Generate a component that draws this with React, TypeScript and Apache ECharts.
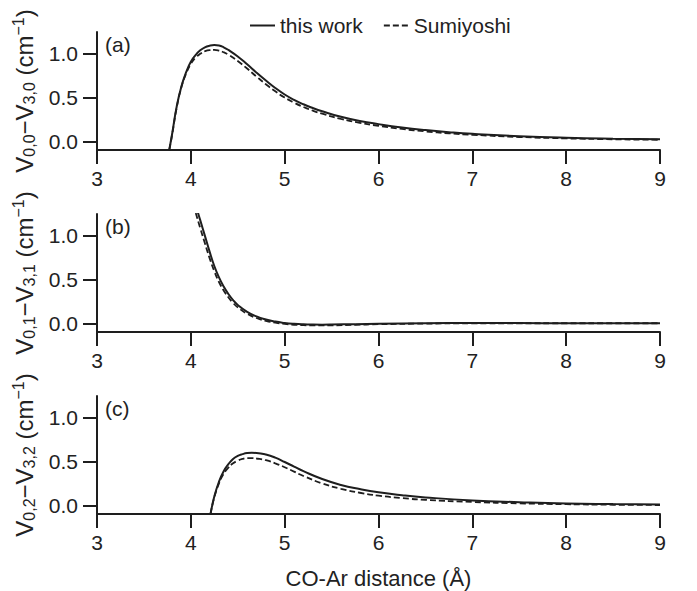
import React, { useEffect, useRef } from "react";
import * as echarts from "echarts";

// ---- data ----
const xA = [3.77, 3.8, 3.85, 3.9, 3.95, 4.0, 4.05, 4.1, 4.15, 4.2, 4.25, 4.3, 4.35, 4.4, 4.5, 4.6, 4.7, 4.8, 4.9, 5.0, 5.1, 5.2, 5.3, 5.4, 5.6, 5.8, 6.0, 6.25, 6.5, 6.75, 7.0, 7.5, 8.0, 8.5, 9.0];
const thisWorkA = [-0.1, 0.08, 0.4, 0.63, 0.79, 0.91, 0.985, 1.04, 1.075, 1.093, 1.1, 1.095, 1.075, 1.045, 0.97, 0.88, 0.785, 0.695, 0.61, 0.535, 0.474, 0.423, 0.38, 0.343, 0.28, 0.232, 0.196, 0.158, 0.128, 0.104, 0.085, 0.058, 0.04, 0.029, 0.022];
const sumiyoshiA = [-0.1, 0.07, 0.39, 0.62, 0.775, 0.885, 0.955, 1.0, 1.03, 1.043, 1.045, 1.037, 1.018, 0.99, 0.918, 0.832, 0.74, 0.652, 0.572, 0.5, 0.442, 0.392, 0.35, 0.315, 0.256, 0.211, 0.177, 0.141, 0.113, 0.091, 0.074, 0.049, 0.033, 0.023, 0.017];

const xB = [4.0, 4.05, 4.1, 4.15, 4.2, 4.25, 4.3, 4.35, 4.4, 4.45, 4.5, 4.6, 4.7, 4.8, 4.9, 5.0, 5.1, 5.2, 5.3, 5.4, 5.5, 5.75, 6.0, 6.5, 7.0, 7.5, 8.0, 8.5, 9.0];
const thisWorkB = [1.55, 1.36, 1.18, 1.0, 0.82, 0.655, 0.525, 0.42, 0.335, 0.265, 0.21, 0.13, 0.078, 0.043, 0.019, 0.004, -0.006, -0.012, -0.015, -0.016, -0.015, -0.01, -0.005, 0.0, 0.002, 0.002, 0.001, 0.001, 0.0];
const sumiyoshiB = [1.46, 1.27, 1.09, 0.915, 0.745, 0.595, 0.472, 0.375, 0.297, 0.233, 0.182, 0.108, 0.06, 0.027, 0.006, -0.008, -0.017, -0.022, -0.025, -0.025, -0.024, -0.018, -0.011, -0.004, -0.001, 0.0, 0.0, 0.0, 0.0];

const xC = [4.21, 4.25, 4.3, 4.35, 4.4, 4.45, 4.5, 4.55, 4.6, 4.65, 4.7, 4.8, 4.9, 5.0, 5.1, 5.2, 5.4, 5.6, 5.8, 6.0, 6.25, 6.5, 7.0, 7.5, 8.0, 8.5, 9.0];
const thisWorkC = [-0.1, 0.1, 0.27, 0.39, 0.47, 0.53, 0.565, 0.585, 0.597, 0.6, 0.598, 0.58, 0.545, 0.495, 0.442, 0.39, 0.3, 0.232, 0.185, 0.148, 0.115, 0.09, 0.055, 0.035, 0.02, 0.013, 0.008];
const sumiyoshiC = [-0.1, 0.09, 0.25, 0.36, 0.43, 0.48, 0.51, 0.53, 0.54, 0.54, 0.535, 0.515, 0.48, 0.435, 0.385, 0.335, 0.25, 0.188, 0.143, 0.11, 0.082, 0.062, 0.038, 0.022, 0.012, 0.006, 0.003];

const yTickValues = [0, 0.5, 1.0];
const panelLabels = ["(a)", "(b)", "(c)"];
const subscripts = [["0,0", "3,0"], ["0,1", "3,1"], ["0,2", "3,2"]];
const seriesNames = ["this work", "Sumiyoshi"];
const xAxisTitle = "CO-Ar distance (Å)";

const panels = [
  { x: xA, work: thisWorkA, sumi: sumiyoshiA },
  { x: xB, work: thisWorkB, sumi: sumiyoshiB },
  { x: xC, work: thisWorkC, sumi: sumiyoshiC },
];

// ---- layout / style ----
const FONT = "Liberation Sans";
const INK = "#1e1e1e";
const TEXT = "#222";
const gridTops = [32, 214, 396];
const GRID_H = 118;
const GRID_LEFT = 97;
const GRID_RIGHT = 37;

function buildOption() {
  const grids = gridTops.map((t) => ({ left: GRID_LEFT, right: GRID_RIGHT, top: t, height: GRID_H }));
  const xAxes = gridTops.map((_, i) => ({
    type: "value",
    gridIndex: i,
    min: 3,
    max: 9,
    interval: 1,
    axisLine: { show: true, onZero: false, lineStyle: { color: INK, width: 2 } },
    axisTick: { show: true, length: 14, inside: false, lineStyle: { color: INK, width: 2 } },
    axisLabel: { fontSize: 21, fontFamily: FONT, color: TEXT, margin: 18 },
    splitLine: { show: false },
  }));
  const yAxes = gridTops.map((_, i) => ({
    type: "value",
    gridIndex: i,
    min: -0.1,
    max: 1.25,
    axisLine: { show: true, onZero: false, lineStyle: { color: INK, width: 2 } },
    axisTick: { show: true, length: 14, customValues: yTickValues, lineStyle: { color: INK, width: 2 } },
    axisLabel: {
      fontSize: 21,
      fontFamily: FONT,
      color: TEXT,
      margin: 19,
      customValues: yTickValues,
      formatter: (v: number) => v.toFixed(1),
    },
    splitLine: { show: false },
  }));

  const series: any[] = [];
  panels.forEach((p, i) => {
    series.push({
      name: seriesNames[0],
      type: "line",
      xAxisIndex: i,
      yAxisIndex: i,
      data: p.x.map((x, k) => [x, p.work[k]]),
      showSymbol: false,
      symbol: "none",
      smooth: 0.5,
      clip: true,
      z: 3,
      lineStyle: { color: INK, width: 2, type: "solid" },
      itemStyle: { color: INK },
    });
    series.push({
      name: seriesNames[1],
      type: "line",
      xAxisIndex: i,
      yAxisIndex: i,
      data: p.x.map((x, k) => [x, p.sumi[k]]),
      showSymbol: false,
      symbol: "none",
      smooth: 0.5,
      clip: true,
      z: 2,
      lineStyle: { color: INK, width: 1.8, type: [6, 3] },
      itemStyle: { color: INK },
    });
  });

  const graphics: any[] = [];
  gridTops.forEach((t, i) => {
    graphics.push({
      type: "text",
      x: 105,
      y: t + 12,
      style: { text: panelLabels[i], font: `21px ${FONT}`, fill: TEXT, align: "left", verticalAlign: "middle" },
    });
    const [s1, s2] = subscripts[i];
    graphics.push({
      type: "text",
      x: 24,
      y: t + GRID_H / 2,
      rotation: Math.PI / 2,
      style: {
        text: `{v|V}{sub|${s1}}{v|−V}{sub|${s2}}{v| (cm}{sup|−1}{v|)}`,
        align: "center",
        verticalAlign: "middle",
        fill: TEXT,
        rich: {
          v: { fontSize: 24, fontFamily: FONT, fill: TEXT },
          sub: { fontSize: 16, fontFamily: FONT, fill: TEXT, padding: [10, 0, 0, 0] },
          sup: { fontSize: 16, fontFamily: FONT, fill: TEXT, padding: [0, 0, 12, 0] },
        },
      },
    });
  });
  graphics.push({
    type: "text",
    x: GRID_LEFT + (697 - GRID_LEFT - GRID_RIGHT) / 2,
    y: 578,
    style: { text: xAxisTitle, font: `22px ${FONT}`, fill: TEXT, align: "center", verticalAlign: "middle" },
  });

  return {
    animation: false,
    backgroundColor: "#fff",
    legend: {
      data: seriesNames,
      left: 244,
      top: 10,
      itemWidth: 25,
      itemHeight: 22,
      itemGap: 20,
      itemStyle: { opacity: 0, color: "rgba(0,0,0,0)", borderWidth: 0 },
      textStyle: { fontSize: 21, fontFamily: FONT, color: TEXT },
    },
    grid: grids,
    xAxis: xAxes,
    yAxis: yAxes,
    series,
    graphic: graphics,
  };
}

export default function App() {
  const ref = useRef<HTMLDivElement>(null);
  useEffect(() => {
    if (!ref.current) return;
    const chart = echarts.init(ref.current, null, { renderer: "svg" });
    chart.setOption(buildOption() as any);
    return () => chart.dispose();
  }, []);
  return <div ref={ref} style={{ position: "fixed", left: 0, top: 0, width: 697, height: 591 }} />;
}
